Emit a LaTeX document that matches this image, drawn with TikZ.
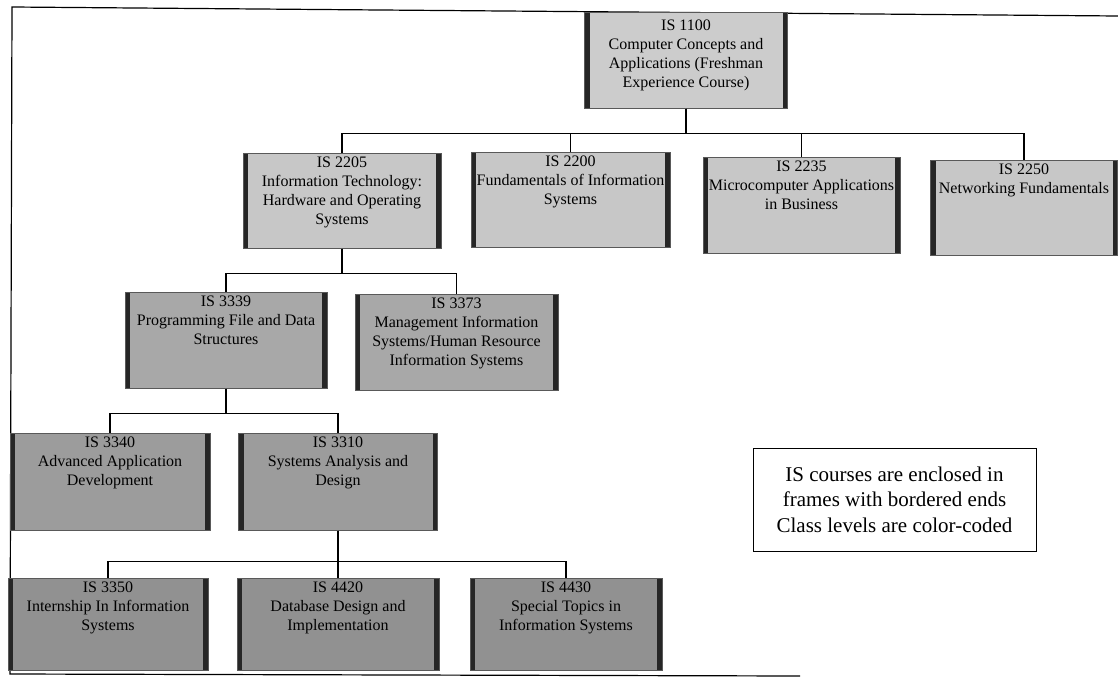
\documentclass[tikz,border=0pt]{standalone}
\usepackage{fontspec}
\setmainfont{Liberation Serif}
\begin{document}
\begin{tikzpicture}[x=1pt,y=-1pt,
  % course box: shaded frame with heavy bordered ends
  course/.style={draw=black!65, line width=0.7pt, fill=#1, inner sep=0pt,
    path picture={
      \fill[black!85] (path picture bounding box.north west) rectangle
        ([xshift=5pt]path picture bounding box.south west);
      \fill[black!85] (path picture bounding box.north east) rectangle
        ([xshift=-5pt]path picture bounding box.south east);
    }},
  coursetext/.style={align=center, inner sep=1pt, anchor=north,
    font=\fontsize{16}{19}\selectfont},
  link/.style={draw=black, line width=1.4pt},
  frame/.style={draw=black, line width=1.2pt},
  legend/.style={draw=black, line width=0.8pt, fill=white, align=center,
    minimum width=283pt, minimum height=103pt,
    font=\fontsize{21}{25.5}\selectfont}]
\definecolor{lvA}{gray}{0.80}
\definecolor{lvB}{gray}{0.78}
\definecolor{lvC}{gray}{0.66}
\definecolor{lvD}{gray}{0.61}
\definecolor{lvE}{gray}{0.57}
\useasboundingbox (0,0) rectangle (1118,677);

% outer frame
\draw[frame] (1118,16) -- (12,7) -- (10,674) -- (800,676);

% level 1
\node[course=lvA, minimum width=203pt, minimum height=96pt, anchor=north] (c1100) at (686,12) {};
\node[coursetext] (t1100) at ([yshift=-7pt]c1100.north)
  {IS 1100\\Computer Concepts and\\Applications (Freshman\\Experience Course)};

% level 2
\node[course=lvB, minimum width=198pt, minimum height=95pt, anchor=north] (c2205) at (342,153) {};
\node[coursetext] (t2205) at ([yshift=-3pt]c2205.north)
  {IS 2205\\Information Technology:\\Hardware and Operating\\Systems};
\node[course=lvB, minimum width=199pt, minimum height=95pt, anchor=north] (c2200) at (570.5,152) {};
\node[coursetext] (t2200) at ([yshift=-3pt]c2200.north)
  {IS 2200\\Fundamentals of Information\\Systems};
\node[course=lvB, minimum width=197pt, minimum height=96pt, anchor=north] (c2235) at (801.5,157) {};
\node[coursetext] (t2235) at ([yshift=-3pt]c2235.north)
  {IS 2235\\Microcomputer Applications\\in Business};
\node[course=lvB, minimum width=187pt, minimum height=95pt, anchor=north] (c2250) at (1024,160) {};
\node[coursetext] (t2250) at ([yshift=-3pt]c2250.north)
  {IS 2250\\Networking Fundamentals};

% level 3
\node[course=lvC, minimum width=202pt, minimum height=96pt, anchor=north] (c3339) at (226,292) {};
\node[coursetext] (t3339) at ([yshift=-3pt]c3339.north)
  {IS 3339\\Programming File and Data\\Structures};
\node[course=lvC, minimum width=203pt, minimum height=96pt, anchor=north] (c3373) at (456.5,294) {};
\node[coursetext] (t3373) at ([yshift=-3pt]c3373.north)
  {IS 3373\\Management Information\\Systems/Human Resource\\Information Systems};

% level 4
\node[course=lvD, minimum width=200pt, minimum height=97pt, anchor=north] (c3340) at (110,433) {};
\node[coursetext] (t3340) at ([yshift=-3pt]c3340.north)
  {IS 3340\\Advanced Application\\Development};
\node[course=lvD, minimum width=199pt, minimum height=97pt, anchor=north] (c3310) at (338,433) {};
\node[coursetext] (t3310) at ([yshift=-3pt]c3310.north)
  {IS 3310\\Systems Analysis and\\Design};

% level 5
\node[course=lvE, minimum width=200pt, minimum height=92pt, anchor=north] (c3350) at (108,578) {};
\node[coursetext] (t3350) at ([yshift=-3pt]c3350.north)
  {IS 3350\\Internship In Information\\Systems};
\node[course=lvE, minimum width=202pt, minimum height=92pt, anchor=north] (c4420) at (338,578) {};
\node[coursetext] (t4420) at ([yshift=-3pt]c4420.north)
  {IS 4420\\Database Design and\\Implementation};
\node[course=lvE, minimum width=192pt, minimum height=92pt, anchor=north] (c4430) at (566,578) {};
\node[coursetext] (t4430) at ([yshift=-3pt]c4430.north)
  {IS 4430\\Special Topics in\\Information Systems};

% prerequisite connectors
\foreach \k in {c2205,c2200,c2235,c2250}
  \draw[link] (c1100.south) -- ++(0,25) -| (\k.north);
\foreach \k in {c3339,c3373}
  \draw[link] (c2205.south) -- ++(0,25) -| (\k.north);
\foreach \k in {c3340,c3310}
  \draw[link] (c3339.south) -- ++(0,25) -| (\k.north);
\foreach \k in {c3350,c4420,c4430}
  \draw[link] (c3310.south) -- ++(0,31) -| (\k.north);

% key
\node[legend] (key) at (894.5,499.5)
  {IS courses are enclosed in\\frames with bordered ends\\Class levels are color-coded};
\end{tikzpicture}
\end{document}
